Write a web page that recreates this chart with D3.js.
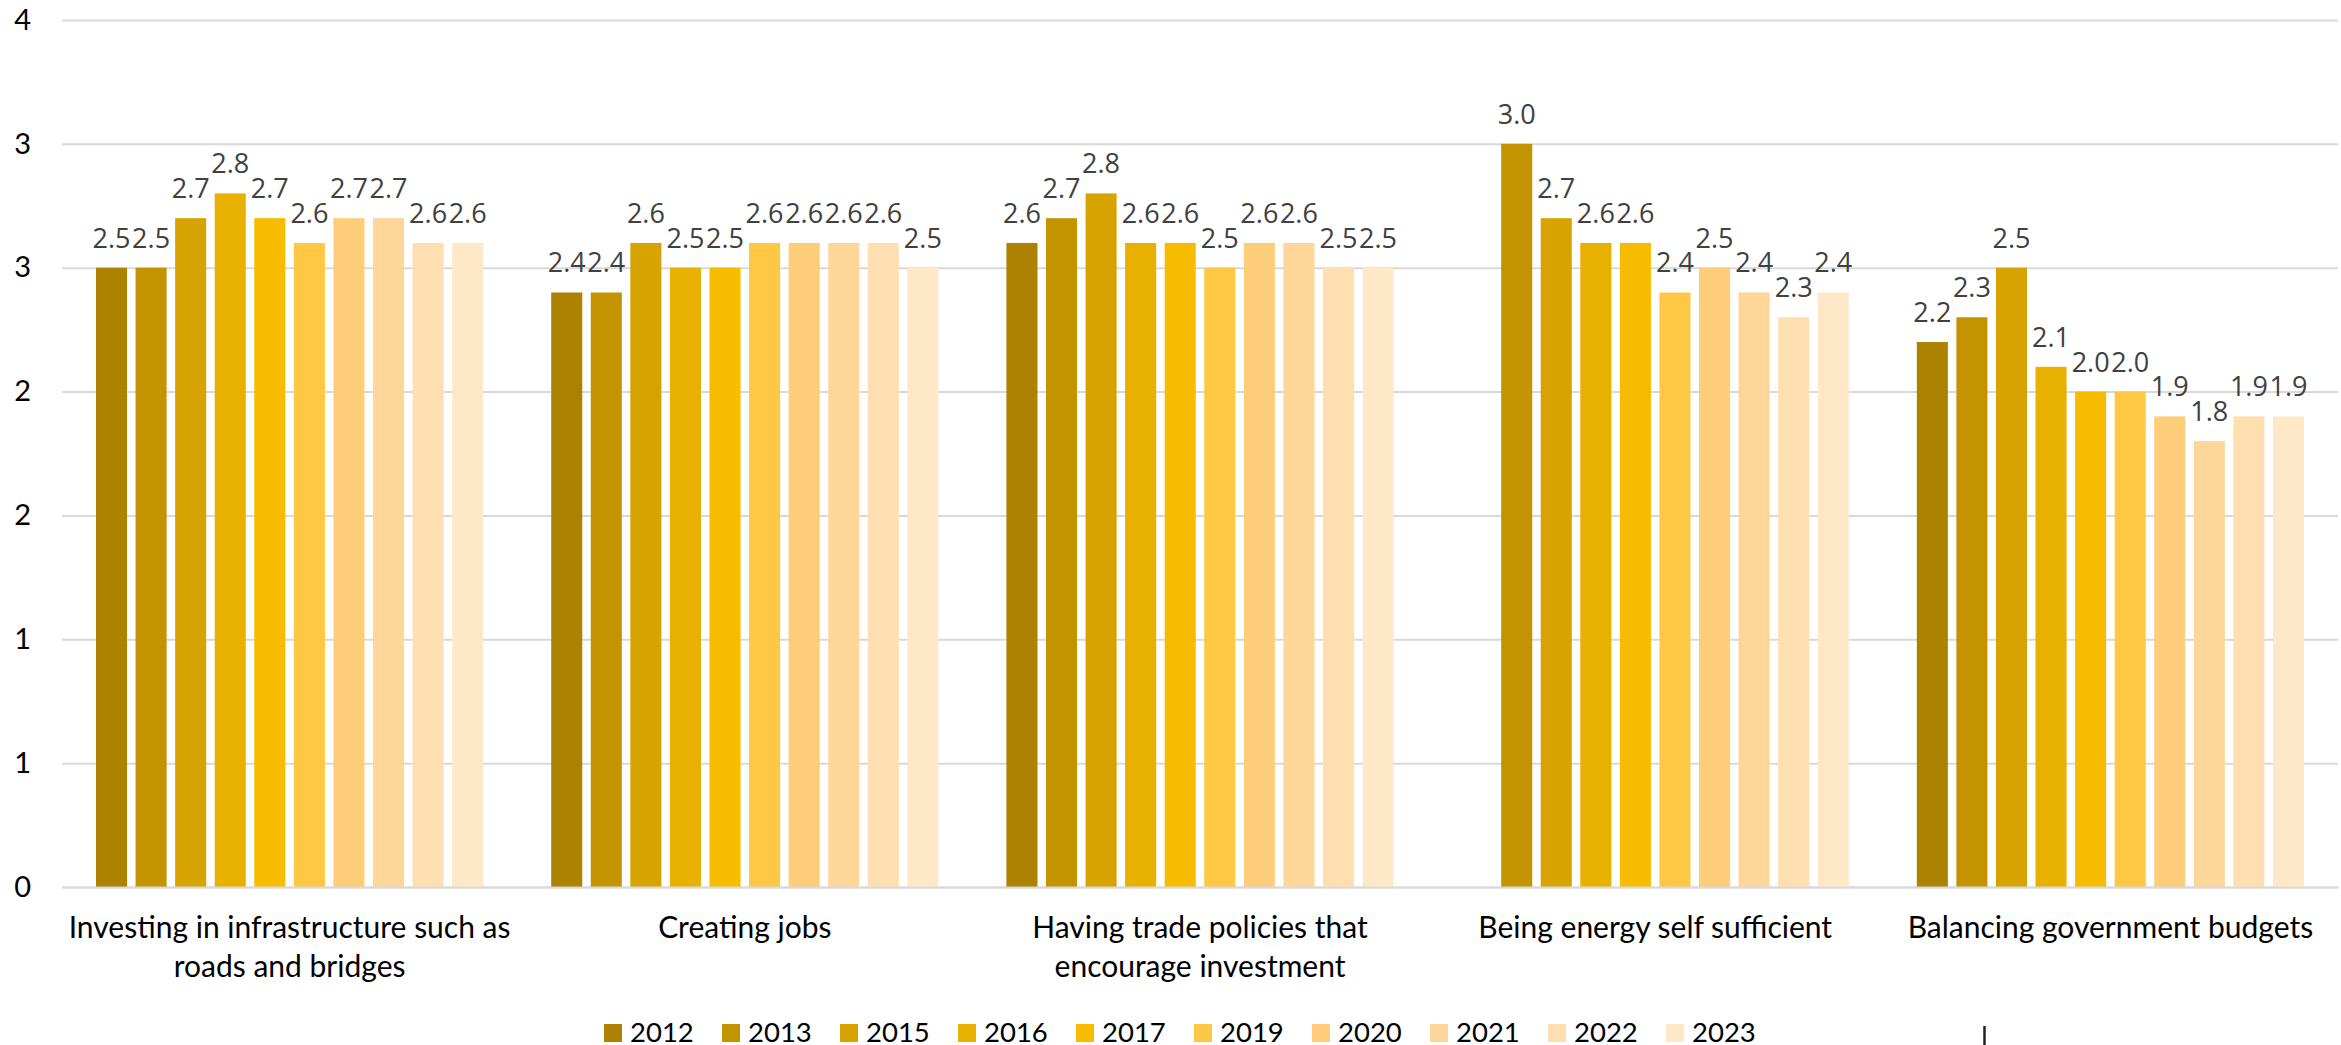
<!DOCTYPE html>
<html>
<head>
<meta charset="utf-8">
<script src="https://cdn.jsdelivr.net/npm/d3@7"></script>
<style>
  body { margin: 0; background: #fff; }
  svg { display: block; }
</style>
</head>
<body>
<div id="chart"></div>
<script>
const width = 2341;
const height = 1045;

const categories = [
  "Investing in infrastructure such as\nroads and bridges",
  "Creating jobs",
  "Having trade policies that\nencourage investment",
  "Being energy self sufficient",
  "Balancing government budgets"
];
const years = ["2012", "2013", "2015", "2016", "2017", "2019", "2020", "2021", "2022", "2023"];
const colors = ["#ad8200", "#c49400", "#d7a300", "#e8b000", "#f7bc00", "#fec744", "#fecd7a", "#fed699", "#ffdfb0", "#ffe8c8"];

// one array per category, values in year order
const infrastructure = [2.5, 2.5, 2.7, 2.8, 2.7, 2.6, 2.7, 2.7, 2.6, 2.6];
const jobs = [2.4, 2.4, 2.6, 2.5, 2.5, 2.6, 2.6, 2.6, 2.6, 2.5];
const trade = [2.6, 2.7, 2.8, 2.6, 2.6, 2.5, 2.6, 2.6, 2.5, 2.5];
const energy = [null, 3.0, 2.7, 2.6, 2.6, 2.4, 2.5, 2.4, 2.3, 2.4];
const budgets = [2.2, 2.3, 2.5, 2.1, 2.0, 2.0, 1.9, 1.8, 1.9, 1.9];
const seriesByCategory = [infrastructure, jobs, trade, energy, budgets];

const yTicks = [0, 0.5, 1, 1.5, 2, 2.5, 3, 3.5];
const yTickLabels = ["0", "1", "1", "2", "2", "3", "3", "4"];

const margin = { top: 20, right: 3, bottom: 158, left: 62 };
const plotBottom = height - margin.bottom;

const svg = d3.select("#chart").append("svg")
  .attr("width", width)
  .attr("height", height);

const x0 = d3.scaleBand()
  .domain(categories)
  .range([margin.left, width - margin.right])
  .padding(0);

const x1 = d3.scaleBand()
  .domain(years)
  .range([34, x0.bandwidth() - 34])
  .paddingInner(0.215)
  .paddingOuter(0);

const y = d3.scaleLinear()
  .domain([0, 3.5])
  .range([plotBottom, margin.top]);

const color = d3.scaleOrdinal().domain(years).range(colors);

// gridlines + y labels
const yAxis = svg.append("g")
  .attr("transform", `translate(${margin.left},0)`)
  .call(d3.axisLeft(y)
    .tickValues(yTicks)
    .tickFormat((d, i) => yTickLabels[i])
    .tickSize(-(width - margin.left - margin.right))
    .tickPadding(31));
yAxis.select(".domain").remove();
yAxis.selectAll(".tick line").attr("stroke", "#d9d9d9").attr("stroke-width", 2);
yAxis.selectAll(".tick text")
  .attr("fill", "#000")
  .style("font", "29px Lato, sans-serif");

// bars
const groups = svg.append("g").selectAll("g")
  .data(categories)
  .join("g")
  .attr("transform", d => `translate(${x0(d)},0)`);

const cells = groups.selectAll("g")
  .data((c, ci) => years.map((yr, i) => ({ year: yr, value: seriesByCategory[ci][i] }))
    .filter(d => d.value != null))
  .join("g");

cells.append("rect")
  .attr("x", d => x1(d.year))
  .attr("width", x1.bandwidth())
  .attr("y", d => y(d.value))
  .attr("height", d => y(0) - y(d.value))
  .attr("fill", d => color(d.year));

cells.append("text")
  .attr("x", d => x1(d.year) + x1.bandwidth() / 2)
  .attr("y", d => y(d.value) - 20)
  .attr("text-anchor", "middle")
  .attr("fill", "#404040")
  .style("font", "27px 'Open Sans', sans-serif")
  .text(d => d.value.toFixed(1));

// x axis
const xAxis = svg.append("g")
  .attr("transform", `translate(0,${plotBottom})`)
  .call(d3.axisBottom(x0).tickSize(0));
xAxis.select(".domain").attr("stroke", "#d9d9d9").attr("stroke-width", 2);
xAxis.selectAll(".tick text")
  .attr("fill", "#000")
  .style("font", "30px Lato, sans-serif")
  .attr("dy", null)
  .attr("y", null)
  .each(function(d) {
    const t = d3.select(this).text("");
    d.split("\n").forEach((line, i) => {
      t.append("tspan").attr("x", 0).attr("y", 51 + i * 39).text(line);
    });
  });

// legend
const legend = svg.append("g")
  .attr("transform", "translate(604,1024)")
  .selectAll("g")
  .data(years)
  .join("g")
  .attr("transform", (d, i) => `translate(${i * 118},0)`);

legend.append("rect")
  .attr("width", 18)
  .attr("height", 18)
  .attr("fill", d => color(d));

legend.append("text")
  .attr("x", 26)
  .attr("y", 18)
  .attr("fill", "#000")
  .style("font", "27.5px Lato, sans-serif")
  .text(d => d);

// small stray mark at the bottom edge
svg.append("line")
  .attr("x1", 1984.5).attr("x2", 1984.5)
  .attr("y1", 1026).attr("y2", height)
  .attr("stroke", "#222")
  .attr("stroke-width", 2.5);
</script>
</body>
</html>
